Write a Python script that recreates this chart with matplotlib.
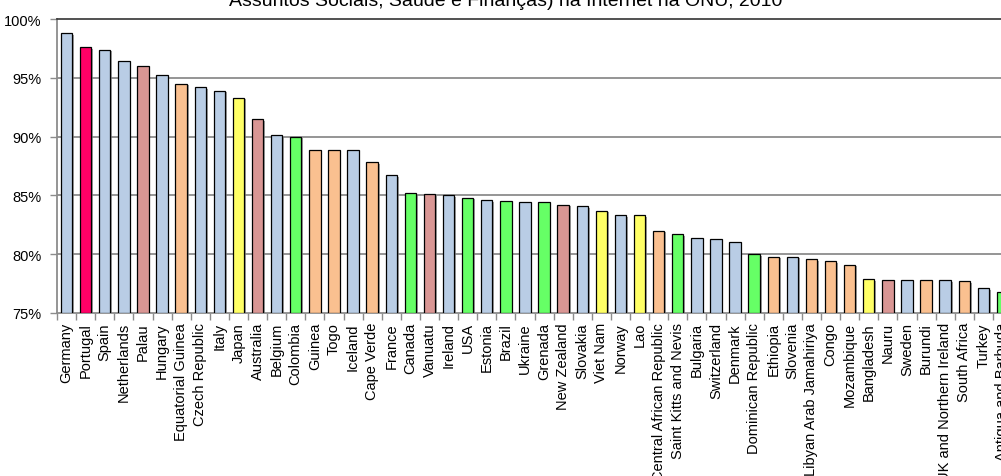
import matplotlib
matplotlib.use("Agg")
import matplotlib.pyplot as plt
import matplotlib.patheffects as pe
from matplotlib.ticker import FixedLocator, FuncFormatter

plt.rcParams['font.family'] = ['Liberation Sans', 'DejaVu Sans']

countries = [
    "Germany", "Portugal", "Spain", "Netherlands", "Palau", "Hungary",
    "Equatorial Guinea", "Czech Republic", "Italy", "Japan", "Australia",
    "Belgium", "Colombia", "Guinea", "Togo", "Iceland", "Cape Verde",
    "France", "Canada", "Vanuatu", "Ireland", "USA", "Estonia", "Brazil",
    "Ukraine", "Grenada", "New Zealand", "Slovakia", "Viet Nam", "Norway",
    "Lao", "Central African Republic", "Saint Kitts and Nevis", "Bulgaria",
    "Switzerland", "Denmark", "Dominican Republic", "Ethiopia", "Slovenia",
    "Libyan Arab Jamahiriya", "Congo", "Mozambique", "Bangladesh", "Nauru",
    "Sweden", "Burundi", "UK and Northern Ireland", "South Africa", "Turkey",
    "Antigua and Barbuda",
]

scores = [
    98.8, 97.6, 97.4, 96.4, 96.0, 95.2, 94.5, 94.2, 93.9, 93.3, 91.5,
    90.1, 90.0, 88.9, 88.9, 88.9, 87.8, 86.7, 85.2, 85.1, 85.0, 84.8,
    84.6, 84.5, 84.45, 84.4, 84.2, 84.1, 83.7, 83.3, 83.3, 82.0, 81.7,
    81.4, 81.3, 81.0, 80.0, 79.8, 79.8, 79.6, 79.4, 79.1, 77.9, 77.8,
    77.8, 77.8, 77.8, 77.7, 77.1, 76.8,
]

groups = [
    "eu", "pt", "eu", "eu", "oc", "eu", "af", "eu", "eu", "as", "oc",
    "eu", "la", "af", "af", "eu", "af", "eu", "la", "oc", "eu", "la",
    "eu", "la", "eu", "la", "oc", "eu", "as", "eu", "as", "af", "la",
    "eu", "eu", "eu", "la", "af", "eu", "af", "af", "af", "as", "oc",
    "eu", "af", "eu", "af", "eu", "la",
]

palette = {
    "eu": "#B9CDE5",
    "pt": "#FF0066",
    "oc": "#D99694",
    "af": "#FAC090",
    "as": "#FFFF66",
    "la": "#66FF66",
}

fig = plt.figure(figsize=(10.01, 4.77), dpi=100)
ax = fig.add_axes([57 / 1001, 163 / 477, 955 / 1001, 294 / 477])

x = list(range(len(countries)))
bars = ax.bar(x, [s - 75 for s in scores], bottom=75, width=0.6,
              color=[palette[g] for g in groups], edgecolor="black",
              linewidth=0.9, zorder=3)
for b in bars:
    b.set_path_effects([pe.SimplePatchShadow(offset=(1.2, -1.2),
                                             shadow_rgbFace="#7a7a7a",
                                             alpha=0.7),
                        pe.Normal()])

ax.set_xlim(-0.5, len(countries) - 0.5)
ax.set_ylim(75, 100)

# horizontal grid
for v in [80, 85, 90, 95]:
    ax.axhline(v, color="#8c8c8c", lw=1.3, zorder=1)

ax.set_yticks([75, 80, 85, 90, 95, 100])
ax.yaxis.set_major_formatter(FuncFormatter(lambda v, p: f"{v:.0f}%"))
ax.tick_params(axis="y", length=5, width=1, color="#8c8c8c", pad=6,
               labelsize=10.5)

ax.set_xticks(x)
ax.set_xticklabels(countries, rotation=90, va="top", ha="center")
ax.tick_params(axis="x", which="major", length=0, pad=6.5, labelsize=10.5)
ax.xaxis.set_minor_locator(FixedLocator([i - 0.5 for i in range(len(countries) + 1)]))
ax.tick_params(axis="x", which="minor", length=5, width=1, color="#8c8c8c")

for side in ["left", "bottom"]:
    ax.spines[side].set_color("#8c8c8c")
    ax.spines[side].set_linewidth(1.3)
ax.spines["top"].set_color("#333333")
ax.spines["top"].set_linewidth(1.2)
ax.spines["right"].set_visible(False)

fig.text(0.505, 1 - 6 / 477,
         "Assuntos Sociais, Saúde e Finanças) na Internet na ONU, 2010",
         ha="center", va="baseline", fontsize=14)

fig.savefig("out.png", dpi=100)
